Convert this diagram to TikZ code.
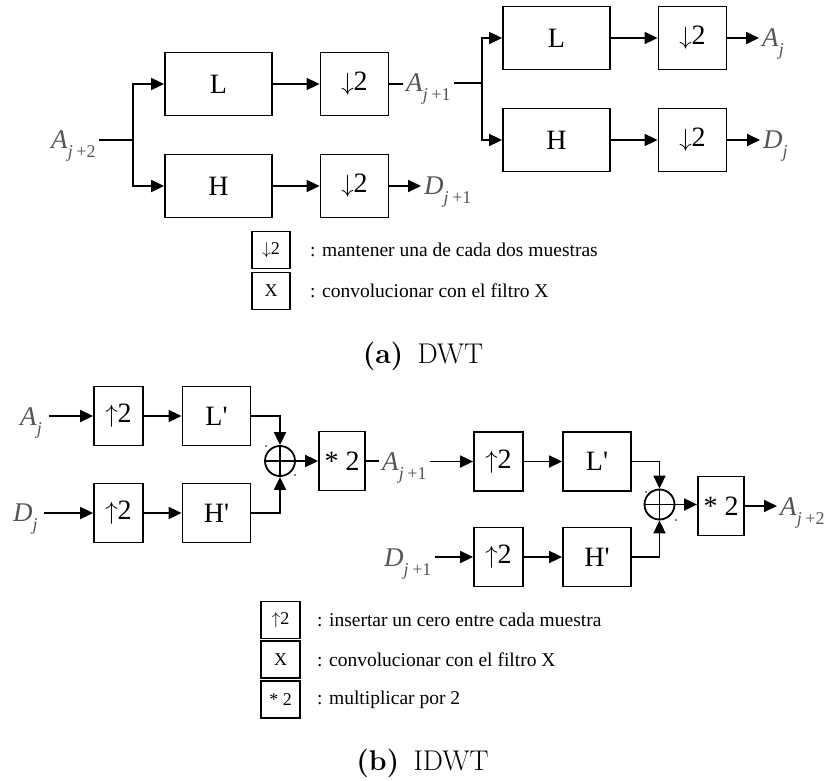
\documentclass[tikz,border=0pt]{standalone}
\usepackage{fontspec}
\newfontfamily\tnr{Liberation Serif}
\usetikzlibrary{arrows.meta,calc}
\definecolor{labgray}{RGB}{85,85,85}
\newcommand\sigl[3]{\tnr\fontsize{27}{27}\selectfont\textit{#1}\raisebox{-9pt}{\fontsize{18}{18}\selectfont\textit{#2}\hspace{0.2em}#3}}
\begin{document}
\begin{tikzpicture}[x=1pt,y=-1pt,
  wire/.style={line width=1.8pt},
  arr/.style={line width=1.8pt,-{Triangle[length=13pt,width=12pt]}},
  blk/.style={draw,line width=1.8pt,inner sep=0pt,minimum width=#1},
  topblk/.style={blk=#1,minimum height=63pt,font=\tnr\fontsize{28}{28}\selectfont},
  botblk/.style={blk=#1,minimum height=59pt,font=\tnr\fontsize{28}{28}\selectfont},
  legblk/.style={blk=39pt,minimum height=37pt,font=\tnr\fontsize{18}{18}\selectfont},
  legtxt/.style={anchor=west,inner sep=0pt,font=\tnr\fontsize{19.5}{19.5}\selectfont},
  sig/.style={text=labgray,inner xsep=3pt,inner ysep=0pt},
  sum/.style={draw,circle,line width=1.8pt,minimum size=30pt,inner sep=0pt},
  captxt/.style={font=\fontsize{28.5}{28.5}\selectfont}
]
\useasboundingbox (0,0) rectangle (836,781);

% ---------------- (a) DWT ----------------
\node[sig,anchor=base west] (a2) at (48,149) {\sigl{A}{j}{+2}};
\coordinate (j1) at (133,140);
\node[topblk=107pt] (L1) at (218.5,84) {L};
\node[topblk=107pt] (H1) at (218.5,186) {H};
\node[topblk=68pt] (D1) at (354.5,84) {$\downarrow$2};
\node[topblk=68pt] (D2) at (354.5,186) {$\downarrow$2};
\node[sig,anchor=base west] (a1) at (403,92) {\sigl{A}{j}{+1}};
\node[sig,anchor=base west] (d1) at (421,195) {\sigl{D}{j}{+1}};
\coordinate (j2) at (482,83);
\node[topblk=107pt] (L2) at (556.5,38) {L};
\node[topblk=107pt] (H2) at (556.5,140) {H};
\node[topblk=68pt] (D3) at (692.5,38) {$\downarrow$2};
\node[topblk=68pt] (D4) at (692.5,140) {$\downarrow$2};
\node[sig,anchor=base west] (aj) at (759,47) {\sigl{A}{j}{}};
\node[sig,anchor=base west] (dj) at (760,149) {\sigl{D}{j}{}};

\draw[wire] (j1 -| a2.east) -- (j1);
\draw[arr] (j1) |- (L1.west);
\draw[arr] (j1) |- (H1.west);
\draw[arr] (L1) -- (D1);
\draw[arr] (H1) -- (D2);
\draw[wire] (D1.east) -- (D1.east -| a1.west);
\draw[arr] (D2.east) -- (D2.east -| d1.west);
\draw[wire] (j2 -| a1.east) -- (j2);
\draw[arr] (j2) |- (L2.west);
\draw[arr] (j2) |- (H2.west);
\draw[arr] (L2) -- (D3);
\draw[arr] (H2) -- (D4);
\draw[arr] (D3.east) -- (D3.east -| aj.west);
\draw[arr] (D4.east) -- (D4.east -| dj.west);

% legend (a)
\node[legblk,minimum width=38pt] (la1) at (271,250) {$\downarrow$2};
\node[legblk,minimum width=38pt] (la2) at (271,291) {X};
\node[legtxt] (ta1) at (310,250) {: mantener una de cada dos muestras};
\node[legtxt] (ta2) at (310,291) {: convolucionar con el filtro X};

\node[captxt] (capa) at (423,356) {\textbf{(a)}\hspace{0.5em}DWT};

% ---------------- (b) IDWT ----------------
\node[sig,anchor=base west] (bAj) at (17,425) {\sigl{A}{j}{}};
\node[sig,anchor=base west] (bDj) at (10,521) {\sigl{D}{j}{}};
\node[botblk=49pt] (U1) at (118.5,416) {$\uparrow$2};
\node[botblk=49pt] (U2) at (118.5,513) {$\uparrow$2};
\node[botblk=68pt] (Lp1) at (216.5,416) {L'};
\node[botblk=68pt] (Hp1) at (216.5,513) {H'};
\node[sum] (S1) at (280,461) {};
\node[botblk=46pt] (M1) at (342,461) {* 2};
\node[sig,anchor=base west] (bA1) at (379,470) {\sigl{A}{j}{+1}};
\node[sig,anchor=base west] (bD1) at (381,566) {\sigl{D}{j}{+1}};
\node[botblk=49pt] (U3) at (498.5,461.5) {$\uparrow$2};
\node[botblk=49pt] (U4) at (498.5,557) {$\uparrow$2};
\node[botblk=68pt] (Lp2) at (597,461.5) {L'};
\node[botblk=68pt] (Hp2) at (597,557) {H'};
\node[sum] (S2) at (659.5,504.5) {};
\node[botblk=46pt] (M2) at (721,506) {* 2};
\node[sig,anchor=base west] (bA2) at (777,515) {\sigl{A}{j}{+2}};

\foreach \s in {S1,S2}{
  \draw[wire] (\s.north) -- (\s.south);
  \draw[wire] (\s.west) -- (\s.east);
}
\fill (266,446) circle (0.8pt) (295,475) circle (0.8pt);
\fill (646,492) circle (0.8pt) (676,520) circle (0.8pt);

\draw[arr] (U1.west -| bAj.east) -- (U1.west);
\draw[arr] (U2.west -| bDj.east) -- (U2.west);
\draw[arr] (U1) -- (Lp1);
\draw[arr] (U2) -- (Hp1);
\draw[arr] (Lp1.east) -| (S1.north);
\draw[arr] (Hp1.east) -| (S1.south);
\draw[arr] (S1.east) -- (S1.east -| M1.west);
\draw[wire] (M1.east) -- (M1.east -| bA1.west);
\draw[arr] (U3.west -| bA1.east) -- (U3.west);
\draw[arr] (U4.west -| bD1.east) -- (U4.west);
\draw[arr] (U3) -- (Lp2);
\draw[arr] (U4) -- (Hp2);
\draw[arr] (Lp2.east) -| (S2.north);
\draw[arr] (Hp2.east) -| (S2.south);
\draw[arr] (S2.east) -- (S2.east -| M2.west);
\draw[arr] (M2.east) -- (M2.east -| bA2.west);

% legend (b)
\node[legblk] (lb1) at (280.5,620) {$\uparrow$2};
\node[legblk] (lb2) at (280.5,659.5) {X};
\node[legblk] (lb3) at (280.5,699.5) {* 2};
\node[legtxt] (tb1) at (317,620) {: insertar un cero entre cada muestra};
\node[legtxt] (tb2) at (317,659.5) {: convolucionar con el filtro X};
\node[legtxt] (tb3) at (317,699.5) {: multiplicar por 2};

\node[captxt] (capb) at (422.5,763) {\textbf{(b)}\hspace{0.5em}IDWT};
\end{tikzpicture}
\end{document}
